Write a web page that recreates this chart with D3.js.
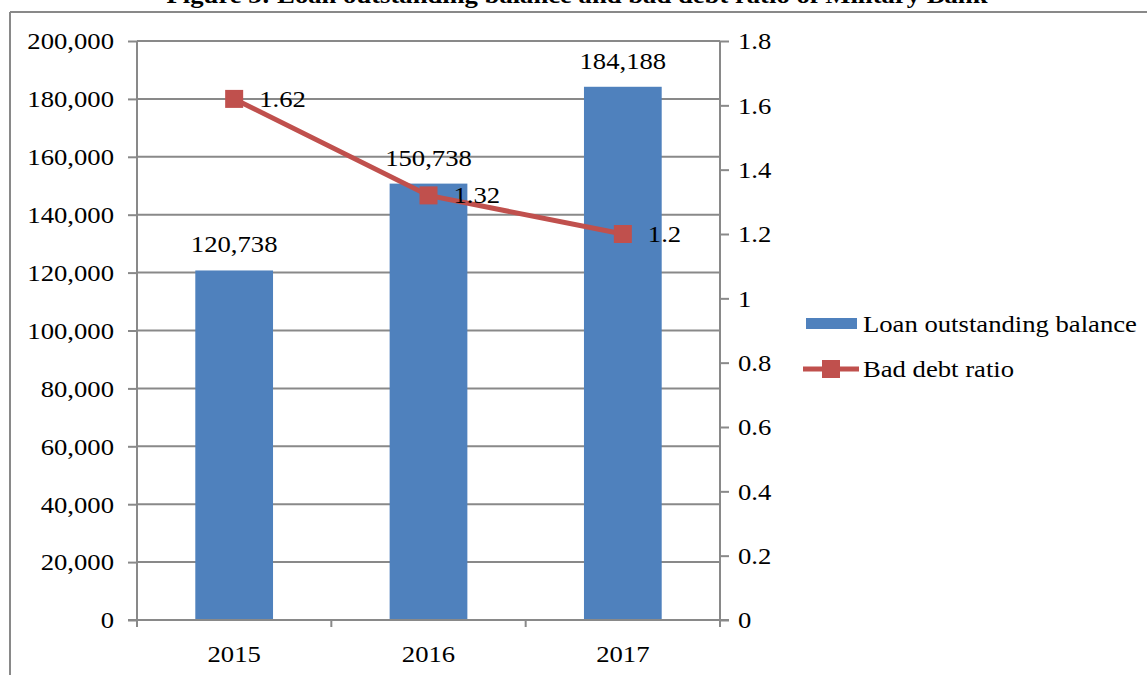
<!DOCTYPE html>
<html>
<head>
<meta charset="utf-8">
<script src="https://cdn.jsdelivr.net/npm/d3@7"></script>
<style>
  body { margin: 0; background: #fff; }
  text { font-family: "Liberation Serif", "Times New Roman", serif; fill: #000; }
</style>
</head>
<body>
<div id="chart"></div>
<script>
var years = ['2015', '2016', '2017'];
var loanBalance = [120738, 150738, 184188];
var badDebtRatio = [1.62, 1.32, 1.2];
var leftTicks = [0, 20000, 40000, 60000, 80000, 100000, 120000, 140000, 160000, 180000, 200000];
var rightTicks = [0, 0.2, 0.4, 0.6, 0.8, 1, 1.2, 1.4, 1.6, 1.8];

var W = 1147, H = 675;
var FS = 23, SX = 1.16; // the scanned text is a bit wide, so stretch it
var svg = d3.select('#chart').append('svg').attr('width', W).attr('height', H);

var plot = { left: 137, right: 720, top: 41, bottom: 620 };
var gray = '#898989';

// put a text at (x, y) with the horizontal stretch
function txt(sel, x, y) {
  return sel.attr('transform', 'translate(' + x + ',' + y + ') scale(' + SX + ',1)')
    .style('font-size', FS + 'px');
}

// outer frame (top and left edge)
svg.append('line').attr('x1', 10).attr('x2', W).attr('y1', 12).attr('y2', 12).attr('stroke', gray).attr('stroke-width', 2);
svg.append('line').attr('x1', 10).attr('x2', 10).attr('y1', 12).attr('y2', H).attr('stroke', gray).attr('stroke-width', 2);

txt(svg.append('text'), 577, 3).attr('text-anchor', 'middle')
  .style('font-weight', 'bold')
  .text('Figure 3: Loan outstanding balance and bad debt ratio of Military Bank');

var x = d3.scaleBand().domain(years).range([plot.left, plot.right]);
var yL = d3.scaleLinear().domain([0, 200000]).range([plot.bottom, plot.top]);
var yR = d3.scaleLinear().domain([0, 1.8]).range([plot.bottom, plot.top]);
var fmt = d3.format(',');

// gridlines
svg.append('g').selectAll('line').data(leftTicks.slice(1)).enter().append('line')
  .attr('x1', plot.left).attr('x2', plot.right)
  .attr('y1', function (d) { return yL(d); }).attr('y2', function (d) { return yL(d); })
  .attr('stroke', gray).attr('stroke-width', 2);

// left axis
var axL = svg.append('g').attr('transform', 'translate(' + plot.left + ',0)')
  .call(d3.axisLeft(yL).tickValues(leftTicks).tickFormat(fmt).tickSize(9).tickPadding(14));
// right axis
var axR = svg.append('g').attr('transform', 'translate(' + plot.right + ',0)')
  .call(d3.axisRight(yR).tickValues(rightTicks).tickFormat(d3.format('')).tickSize(9).tickPadding(9));

[axL, axR].forEach(function (ax) {
  ax.select('.domain').remove();
  ax.selectAll('line').attr('stroke', gray).attr('stroke-width', 2);
  ax.selectAll('text').each(function () {
    var t = d3.select(this);
    var xx = +t.attr('x');
    t.attr('x', null).attr('dy', '0.34em');
    txt(t, xx, 0).style('font-family', '"Liberation Serif", serif').attr('fill', '#000');
  });
});
svg.append('line').attr('x1', plot.left).attr('x2', plot.left).attr('y1', plot.top).attr('y2', plot.bottom).attr('stroke', gray).attr('stroke-width', 2);
svg.append('line').attr('x1', plot.right).attr('x2', plot.right).attr('y1', plot.top).attr('y2', plot.bottom + 7).attr('stroke', gray).attr('stroke-width', 2);

// bars
var barW = x.bandwidth() * 0.4;
svg.append('g').selectAll('rect').data(loanBalance).enter().append('rect')
  .attr('x', function (d, i) { return x(years[i]) + x.bandwidth() / 2 - barW / 2; })
  .attr('y', function (d) { return yL(d); })
  .attr('width', barW)
  .attr('height', function (d) { return plot.bottom - yL(d); })
  .attr('fill', '#4F81BD');

// bottom axis
svg.append('line').attr('x1', plot.left - 9).attr('x2', plot.right + 9).attr('y1', plot.bottom).attr('y2', plot.bottom).attr('stroke', gray).attr('stroke-width', 2);
svg.append('g').selectAll('line').data(years.concat(['end'])).enter().append('line')
  .attr('x1', function (d, i) { return plot.left + i * x.bandwidth(); })
  .attr('x2', function (d, i) { return plot.left + i * x.bandwidth(); })
  .attr('y1', plot.bottom).attr('y2', plot.bottom + 7)
  .attr('stroke', gray).attr('stroke-width', 2);
svg.append('g').selectAll('text').data(years).enter().append('text')
  .each(function (d) { txt(d3.select(this), x(d) + x.bandwidth() / 2, 662); })
  .attr('text-anchor', 'middle')
  .text(function (d) { return d; });

// bar labels
svg.append('g').selectAll('text').data(loanBalance).enter().append('text')
  .each(function (d, i) { txt(d3.select(this), x(years[i]) + x.bandwidth() / 2, yL(d) - 18); })
  .attr('text-anchor', 'middle')
  .text(function (d) { return fmt(d); });

// line
var cx = function (d, i) { return x(years[i]) + x.bandwidth() / 2; };
svg.append('path').datum(badDebtRatio)
  .attr('d', d3.line().x(cx).y(function (d) { return yR(d); }))
  .attr('fill', 'none').attr('stroke', '#C0504D').attr('stroke-width', 5);
var mk = 18;
svg.append('g').selectAll('rect').data(badDebtRatio).enter().append('rect')
  .attr('x', function (d, i) { return cx(d, i) - mk / 2; })
  .attr('y', function (d) { return yR(d) - mk / 2; })
  .attr('width', mk).attr('height', mk).attr('fill', '#C0504D');
svg.append('g').selectAll('text').data(badDebtRatio).enter().append('text')
  .each(function (d, i) { txt(d3.select(this), cx(d, i) + 25, yR(d) + 8); })
  .text(function (d) { return d; });

// legend
var lg = svg.append('g');
lg.append('rect').attr('x', 806).attr('y', 318).attr('width', 51).attr('height', 11).attr('fill', '#4F81BD');
txt(lg.append('text'), 863, 332).text('Loan outstanding balance');
lg.append('line').attr('x1', 803).attr('x2', 859).attr('y1', 369).attr('y2', 369).attr('stroke', '#C0504D').attr('stroke-width', 5);
lg.append('rect').attr('x', 822).attr('y', 360).attr('width', mk).attr('height', mk).attr('fill', '#C0504D');
txt(lg.append('text'), 863, 377).text('Bad debt ratio');
</script>
</body>
</html>
